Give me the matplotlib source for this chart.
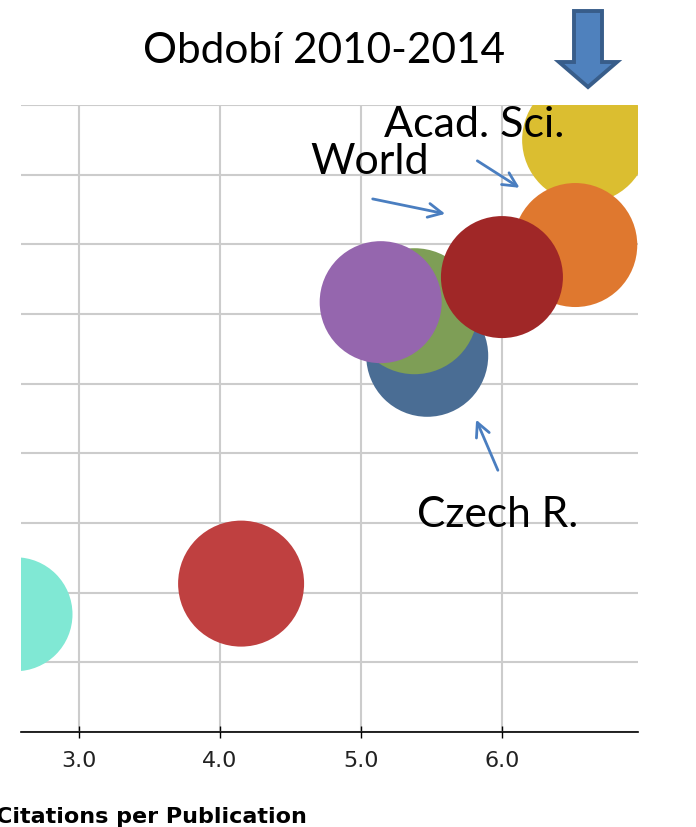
import matplotlib
matplotlib.use('Agg')
import matplotlib.pyplot as plt
from matplotlib.patches import Polygon

# bubble data (citations per publication vs. second indicator)
cites = [2.55, 4.15, 5.47, 5.38, 5.14, 6.59, 6.52, 6.00]
yvals = [1.69, 2.13, 5.40, 6.04, 6.17, 8.50, 6.99, 6.53]
radius = [57, 63, 61, 63, 61, 63, 62, 61]
colors = ['#80E8D4', '#BF4040', '#4A6D94', '#7E9E56', '#9566AE',
          '#DBBE30', '#DF782F', '#A02727']

xticks = [3.0, 4.0, 5.0, 6.0]
xticklabels = ['3.0', '4.0', '5.0', '6.0']

LBL_FONT = ['Lato', 'DejaVu Sans']
BLUE = '#4A7EC0'

fig = plt.figure(figsize=(6.96, 8.27), dpi=100)
ax = fig.add_axes([21 / 696, 1 - 732 / 827, 617 / 696, 627 / 827])

sizes = [(2 * r * 0.72) ** 2 for r in radius]
ax.scatter(cites, yvals, s=sizes, c=colors, edgecolors='none', zorder=3)

ax.set_xlim(2.589, 6.965)
ax.set_ylim(0, 9)
ax.set_xticks(xticks)
ax.set_xticklabels(xticklabels)
ax.set_yticks(range(10))
ax.set_yticklabels([])
ax.tick_params(axis='y', length=0)
ax.tick_params(axis='x', direction='inout', length=8, width=1, labelsize=16,
               labelcolor='#222222', pad=10)
ax.grid(True, color='#cccccc', linewidth=1.5, zorder=0)
ax.set_axisbelow(True)
for side in ['left', 'right', 'top']:
    ax.spines[side].set_visible(False)
ax.spines['bottom'].set_color('black')
ax.spines['bottom'].set_linewidth(1.2)

# annotations
arrow = dict(arrowstyle='->', color=BLUE, lw=2, mutation_scale=25)
ax.annotate('', xy=(6.142, 7.79), xytext=(5.809, 8.22), arrowprops=arrow,
            annotation_clip=False, zorder=5)
ax.annotate('', xy=(5.617, 7.43), xytext=(5.064, 7.66), arrowprops=arrow,
            annotation_clip=False, zorder=5)
ax.annotate('', xy=(5.809, 4.52), xytext=(5.979, 3.72), arrowprops=arrow,
            annotation_clip=False, zorder=5)
ax.text(5.80, 8.54, 'Acad. Sci.', family=LBL_FONT, fontsize=31,
        ha='center', va='baseline', zorder=6)
ax.text(5.064, 8.01, 'World', family=LBL_FONT, fontsize=31,
        ha='center', va='baseline', zorder=6)
ax.text(5.972, 2.94, 'Czech R.', family=LBL_FONT, fontsize=30.5,
        ha='center', va='baseline', zorder=6)

fig.text(324 / 696, 1 - 63 / 827, 'Období 2010-2014', family=LBL_FONT,
         fontsize=30.5, ha='center', va='baseline')

# block arrow at the top right
pts = [(574, 11), (602, 11), (602, 62), (617, 62), (588, 87), (559, 62), (574, 62)]
pts = [(x / 696, 1 - y / 827) for x, y in pts]
fig.patches.append(Polygon(pts, closed=True, transform=fig.transFigure,
                           facecolor='#4F81BD', edgecolor='#385D8A', lw=2.8))

fig.text(-4 / 696, 1 - 823 / 827, 'Citations per Publication', fontsize=16,
         fontweight='bold', ha='left', va='baseline')

fig.savefig('out.png', dpi=100)
